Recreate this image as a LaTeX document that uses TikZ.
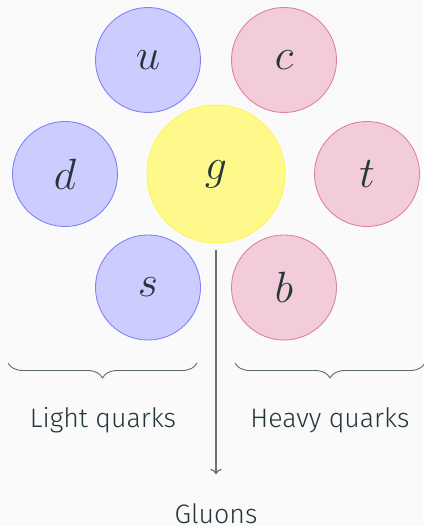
\documentclass[tikz,border=0pt]{standalone}
\usepackage{fontspec}
\setmainfont{Fira Sans Light}
\usepackage{tikz}
\usetikzlibrary{arrows.meta, positioning, calc, decorations.pathreplacing}

\definecolor{mDarkTeal}{HTML}{23373B}
\definecolor{mBack}{HTML}{FAFAFA}

\begin{document}
\begin{tikzpicture}[
    every node/.style={font=\fontsize{15.2}{18}\selectfont, text=mDarkTeal},
    particle/.style={circle, draw, line width=0.5pt, minimum size=2.1cm, inner sep=0pt, font=\Huge},
    light/.style={particle, fill=blue!20, draw=blue!50},
    heavy/.style={particle, fill=purple!20, draw=purple!50},
    gluon/.style={particle, fill=yellow!45, draw=yellow!70, minimum size=2.76cm},
    brace/.style={decorate, decoration={brace, mirror, amplitude=0.3cm}, draw=mDarkTeal!75, line width=0.5pt},
    arrow/.style={->, draw=mDarkTeal!70, line width=0.7pt}
  ]
    \fill[mBack] (-4.32,3.48) rectangle (4.14,-7.04);
    \useasboundingbox (-4.32,3.48) rectangle (4.14,-7.04);

    \node[gluon] (g) at (0,0) {$g$};
    \node[light] (u) at (-1.36,2.28) {$u$};
    \node[heavy] (c) at (1.36,2.28) {$c$};
    \node[light] (d) at (-3.02,0) {$d$};
    \node[heavy] (t) at (3.02,0) {$t$};
    \node[light] (s) at (-1.36,-2.27) {$s$};
    \node[heavy] (b) at (1.36,-2.27) {$b$};

    % braces under the two groups
    \coordinate (ll) at (-4.16,-3.78);
    \coordinate (lr) at (-0.38,-3.78);
    \coordinate (hl) at (0.38,-3.78);
    \coordinate (hr) at (4.18,-3.78);
    \draw[brace] (ll) -- (lr);
    \draw[brace] (hl) -- (hr);

    \node[anchor=base] (lq) at (-2.26,-5.06) {Light quarks};
    \node[anchor=base] (hq) at (2.28,-5.06) {Heavy quarks};
    \node[anchor=base, inner sep=0pt] (gl) at (0,-6.99) {Gluons};

    \draw[arrow, shorten <=0.13cm, shorten >=0.58cm] (g) -- (gl);

  \end{tikzpicture}
\end{document}
